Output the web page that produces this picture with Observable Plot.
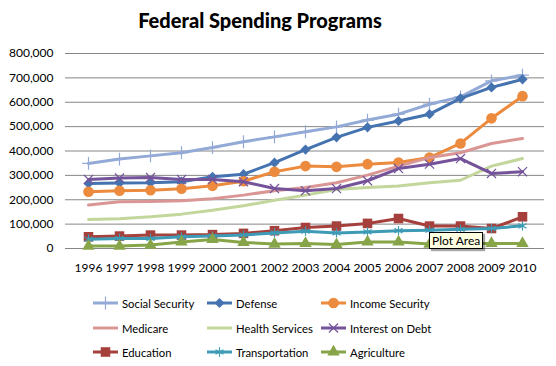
<!DOCTYPE html>
<html>
<head>
<meta charset="utf-8">
<script src="https://cdn.jsdelivr.net/npm/d3@7"></script>
<script src="https://cdn.jsdelivr.net/npm/@observablehq/plot@0.6"></script>
<style>
  body { margin: 0; background: #fff; font-family: Lato, "Liberation Sans", sans-serif; }
  #wrap { position: relative; width: 556px; height: 366px; overflow: hidden; }
  #title { position: absolute; left: 0; top: 8px; width: 520px; text-align: center; font-weight: 900; font-size: 20px; color: #000; }
  #chart { position: absolute; left: 0; top: 38px; }
  .leg { position: absolute; display: flex; align-items: center; font-size: 11.3px; color: #000; white-space: nowrap; }
  .leg svg { margin-right: 3px; }
  #tip { position: absolute; left: 429px; top: 232px; padding: 0 2px; height: 15px; line-height: 15px; font-size: 12px; background: #FFFFE1; border: 1px solid #000; box-shadow: 2px 2px 1px rgba(0,0,0,0.35); font-family: Lato, sans-serif; }
</style>
</head>
<body>
<div id="wrap">
  <div id="title">Federal Spending Programs</div>
  <div id="chart"></div>
  <div id="legend"></div>
  <div id="tip">Plot Area</div>
</div>
<script>
const years = [1996,1997,1998,1999,2000,2001,2002,2003,2004,2005,2006,2007,2008,2009,2010];
const yTicks = [0,100000,200000,300000,400000,500000,600000,700000,800000];

const socialSecurity = [349000,367000,380000,393000,414000,438000,458000,479000,499000,527000,551000,592000,622000,688000,711000];
const defense        = [267000,269000,270000,274000,294000,305000,352000,406000,456000,497000,523000,551000,616000,661000,694000];
const incomeSecurity = [233000,237000,239000,245000,257000,276000,315000,338000,335000,346000,353000,373000,431000,534000,625000];
const medicare       = [178000,192000,193000,196000,204000,219000,237000,250000,270000,301000,338000,373000,393000,431000,451000];
const healthServices = [119000,122000,130000,141000,157000,175000,198000,219000,242000,250000,256000,270000,280000,338000,369000];
const interestOnDebt = [283000,289000,291000,283000,283000,274000,246000,237000,246000,278000,328000,346000,369000,308000,315000];
const education      = [48000,51000,55000,55000,57000,62000,73000,86000,92000,103000,123000,92000,92000,82000,130000];
const transportation = [38000,41000,41000,48000,51000,55000,64000,71000,64000,68000,73000,75000,79000,82000,93000];
const agriculture    = [10000,10000,14000,27000,37000,25000,18000,21000,16000,27000,27000,18000,21000,21000,21000];

const seriesNames = ["Social Security","Defense","Income Security","Medicare","Health Services","Interest on Debt","Education","Transportation","Agriculture"];
const seriesValues = [socialSecurity,defense,incomeSecurity,medicare,healthServices,interestOnDebt,education,transportation,agriculture];
const seriesColors = ["#93AAD6","#4573B0","#EC8A3D","#D99694","#C3D69B","#74539A","#A5403D","#3D9BB6","#87A548"];
// marker: [symbol, r, filled]
const seriesMarkers = [["plus",4.2,false],["diamond2",4.6,true],["circle",5.3,true],null,null,["times",4.2,false],["square",5.4,true],["asterisk",4.4,false],["triangle",4.6,true]];

const marks = [
  Plot.ruleY(yTicks, {stroke: "#868686", strokeWidth: 1})
];
seriesNames.forEach((name, i) => {
  const rows = years.map((yr, j) => ({year: yr, value: seriesValues[i][j]}));
  marks.push(Plot.line(rows, {x: "year", y: "value", stroke: seriesColors[i], strokeWidth: 3, strokeLinejoin: "round", strokeLinecap: "round"}));
  const m = seriesMarkers[i];
  if (m) {
    marks.push(Plot.dot(rows, m[2]
      ? {x: "year", y: "value", symbol: () => m[0], r: m[1], fill: seriesColors[i], stroke: "none"}
      : {x: "year", y: "value", symbol: () => m[0], r: m[1], fill: "none", stroke: seriesColors[i], strokeWidth: 1.2}));
  }
});

const chart = Plot.plot({
  width: 556,
  height: 240,
  marginTop: 15,
  marginBottom: 30,
  marginLeft: 65,
  marginRight: 12,
  style: {fontFamily: "Lato, 'Liberation Sans', sans-serif", fontSize: "12px", color: "#000", background: "#fff"},
  x: {type: "point", domain: years, padding: 0.5, label: null, tickSize: 0, tickPadding: 15, tickFormat: d => String(d)},
  y: {domain: [0, 800000], ticks: yTicks, label: null, tickSize: 0, tickPadding: 12, tickFormat: d3.format(",")},
  symbol: {type: "identity"},
  marks
});
document.getElementById("chart").appendChild(chart);

// legend
const legend = document.getElementById("legend");
const colX = [93, 207, 321];
const rowY = [303, 328, 352];
seriesNames.forEach((name, i) => {
  const div = document.createElement("div");
  div.className = "leg";
  div.style.left = colX[i % 3] + "px";
  div.style.top = (rowY[Math.floor(i / 3)] - 8) + "px";
  div.style.height = "16px";
  const svg = d3.create("svg").attr("width", 26).attr("height", 16);
  svg.append("line").attr("x1", 0).attr("x2", 25).attr("y1", 8).attr("y2", 8).attr("stroke", seriesColors[i]).attr("stroke-width", 3);
  const m = seriesMarkers[i];
  if (m) {
    const symMap = {plus: d3.symbolPlus, diamond2: d3.symbolDiamond2, circle: d3.symbolCircle, times: d3.symbolTimes, square: d3.symbolSquare, asterisk: d3.symbolAsterisk, triangle: d3.symbolTriangle};
    const p = svg.append("path").attr("transform", "translate(12.5,8)")
      .attr("d", d3.symbol(symMap[m[0]], Math.PI * m[1] * m[1])());
    if (m[2]) p.attr("fill", seriesColors[i]);
    else p.attr("fill", "none").attr("stroke", seriesColors[i]).attr("stroke-width", 1.2);
  }
  div.appendChild(svg.node());
  const span = document.createElement("span");
  span.textContent = name;
  div.appendChild(span);
  legend.appendChild(div);
});
</script>
</body>
</html>
